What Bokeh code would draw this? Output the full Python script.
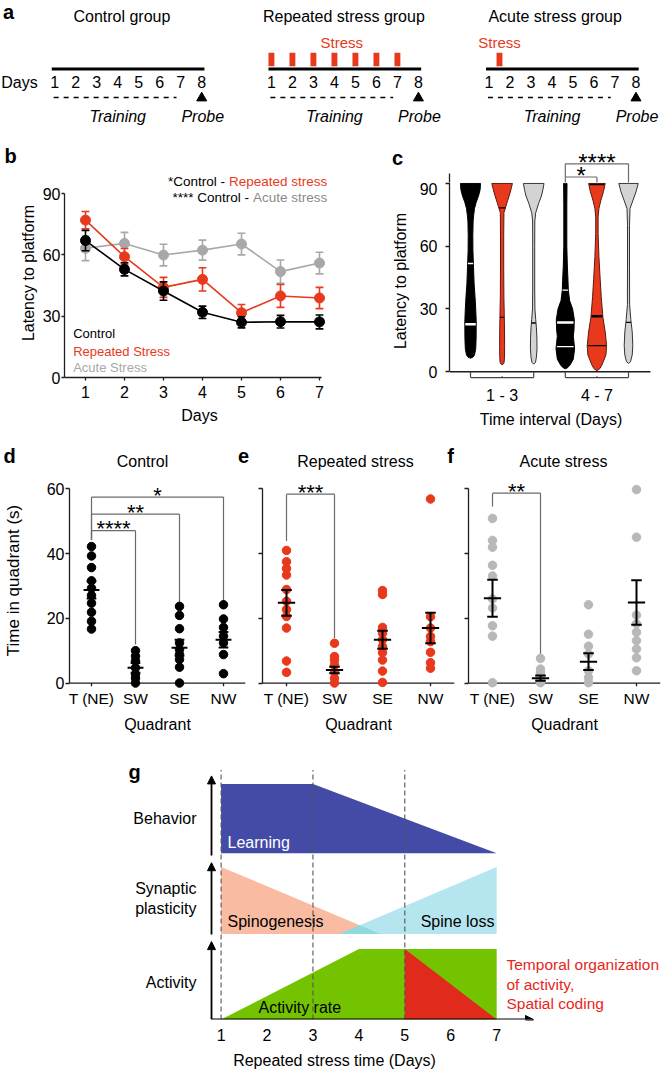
import numpy as np
from bokeh.plotting import figure
from bokeh.layouts import column, row
from bokeh.models import Range1d, FactorRange, FixedTicker, Arrow, NormalHead
from bokeh.core.properties import value
from bokeh.embed import file_html
from bokeh.resources import INLINE

FONT = "Liberation Sans"
RED = "#E8391D"
GRAY_B = "#A8A8A8"
GRAY_F = "#B8B8B8"
VGRAY = "#D3D3D3"
AXIS = "#1E1E1E"
BRK = "#6B6B6B"

# ======================= DATA =======================
# (a) protocol
a_titles = ["Control group", "Repeated stress group", "Acute stress group"]
a_title_x = [4.2, 4.45, 4.15]
a_days = [1, 2, 3, 4, 5, 6, 7, 8]
a_training = [1, 7]
a_probe = 8
a_stress_days = [[], [1, 2, 3, 4, 5, 6, 7], [1.5]]
a_stress_label_x = [None, 4.35, 1.5]

# (b) latency per day
b_days = [1, 2, 3, 4, 5, 6, 7]
b_control = [67.0, 52.9, 42.3, 31.9, 27.0, 27.3, 27.2]
b_control_sem = [5.0, 3.2, 4.5, 3.0, 2.7, 3.1, 3.4]
b_repeated = [77.0, 59.1, 44.1, 48.0, 31.7, 39.9, 38.9]
b_repeated_sem = [4.2, 4.0, 4.9, 5.7, 4.0, 5.6, 5.2]
b_acute = [63.2, 65.6, 59.9, 62.3, 65.3, 51.8, 56.0]
b_acute_sem = [6.0, 5.4, 5.3, 4.9, 5.3, 5.7, 5.3]
b_yticks = [0, 30, 60, 90]

# (c) violins: latency level and half-width (px) of each violin
c_pos = [1, 2, 3, 4, 5, 6]
c_tick_labels = {2: "1 - 3", 5: "4 - 7"}
c_groups = [(1, 3), (4, 6)]
v1_y = [6.5, 7.0, 8.0, 11, 16, 24, 30, 36, 42, 50, 58, 65, 72, 75, 78, 81, 84, 87, 90]
v1_w = [0, 2.5, 4.0, 5.2, 5.6, 5.7, 5.2, 4.5, 3.6, 3.0, 2.4, 2.3, 2.6, 3.2, 4.0, 5.7, 8.0, 9.6, 10.0]
v2_y = [3.3, 4.0, 6, 12, 20, 28, 35, 50, 65, 76, 78.3, 81, 84, 87, 90]
v2_w = [0, 1.8, 2.3, 2.5, 2.4, 2.1, 1.8, 1.6, 1.6, 1.8, 3.3, 5.0, 7.0, 8.8, 10.3]
v3_y = [3.6, 4.5, 7, 11, 16, 21, 25, 30, 40, 60, 72, 76, 80.6, 84, 87, 90]
v3_w = [0, 1.8, 2.7, 3.3, 3.2, 2.7, 2.0, 1.2, 1.0, 1.0, 1.1, 2.0, 5.0, 7.7, 9.2, 10.3]
v4_y = [1.4, 2.0, 3.2, 6, 11, 14, 17, 20, 25, 30, 34, 39, 43.5, 51, 60, 80, 90]
v4_w = [0, 2.5, 4.7, 8.0, 9.3, 8.7, 8.0, 8.7, 9.0, 7.3, 4.3, 3.0, 2.7, 2.0, 1.5, 1.5, 1.7]
v5_y = [0.5, 1.5, 3.2, 8, 12.5, 19, 26, 36, 44, 55, 66, 74, 78, 82, 86, 90]
v5_w = [0, 3.0, 5.0, 9.0, 9.7, 8.3, 6.0, 4.3, 3.3, 2.0, 1.2, 1.2, 2.0, 4.0, 6.5, 8.3]
v6_y = [4.0, 4.8, 8, 12.5, 19, 25, 32, 50, 70, 78, 82, 86, 90]
v6_w = [0, 2.0, 3.7, 4.3, 3.7, 2.3, 1.1, 1.0, 1.0, 1.5, 4.5, 7.5, 9.7]
c_violins = [(v1_y, v1_w), (v2_y, v2_w), (v3_y, v3_w), (v4_y, v4_w), (v5_y, v5_w), (v6_y, v6_w)]
c_fill = ["black", RED, VGRAY, "black", RED, VGRAY]
c_edge = ["black", "#5a1a10", "#333333", "black", "#5a1a10", "#333333"]
c_mark_color = ["white", "black", "black", "white", "black", "black"]
c_median = [22.7, 26.0, 23.3, 23.5, 26.5, 23.6]
c_quartiles = [[51.7], [78.3], [], [39.0, 12.0], [89.5, 12.5], []]
c_sig = [(4, 5, 93.0, 90.0, 90.0, "*"), (4, 6, 99.1, 93.0, 90.0, "****")]

# (d, e, f) time in quadrant
quadrants = ["T (NE)", "SW", "SE", "NW"]
d_vals = [[42.2, 39.3, 35.7, 31.6, 29.3, 27.1, 24.7, 21.9, 19.1, 16.7],
          [10.0, 8.3, 6.8, 4.7, 2.7, 1.5, 0.0],
          [23.7, 20.9, 16.8, 12.4, 10.4, 8.8, 7.3, 4.9, 0.0],
          [24.2, 19.8, 17.2, 14.5, 12.4, 8.8, 2.9]]
d_mean = [28.8, 4.7, 10.9, 13.4]
d_sem = [2.7, 1.5, 2.5, 2.4]
d_sig = [(0, 3, 57.5, 44.3, 25.2, "*"), (0, 2, 52.2, 44.3, 24.7, "**"), (0, 1, 47.1, 44.3, 11.9, "****")]

e_vals = [[41.0, 37.5, 35.4, 33.4, 28.9, 25.3, 22.7, 20.6, 17.0, 6.8, 3.3],
          [12.3, 8.2, 7.1, 5.6, 3.5, 1.5, 0.0],
          [28.6, 27.4, 17.2, 15.4, 13.4, 11.3, 9.4, 7.1, 3.7, 0.2],
          [56.9, 20.5, 17.0, 14.4, 12.8, 9.5, 6.3, 4.6]]
e_mean = [24.8, 4.0, 13.4, 17.0]
e_sem = [4.0, 1.0, 2.8, 4.7]
e_sig = [(0, 1, 58.4, 43.9, 13.9, "***")]

f_vals = [[50.9, 44.1, 42.0, 36.4, 33.1, 26.0, 23.2, 17.7, 14.5, 0.1],
          [7.6, 4.3, 3.2, 2.2, 1.2, 0.1],
          [24.2, 15.1, 11.4, 9.0, 3.8, 1.7, 0.1],
          [59.8, 45.1, 21.0, 18.3, 15.7, 13.1, 10.5, 7.8, 3.8]]
f_mean = [26.2, 1.5, 6.6, 24.9]
f_sem = [5.7, 0.8, 2.6, 6.9]
f_sig = [(0, 1, 58.7, 54.6, 9.0, "**")]
def_yticks = [0, 20, 40, 60]

# (g) schematic
g_days = [1, 2, 3, 4, 5, 6, 7]
g_marks = [1, 3, 5]
g_behavior_x = [1, 3, 7, 1]
g_behavior_y = [3.41, 3.41, 2.41, 2.41]
g_spino_x = [1, 1, 4.47]
g_spino_y = [2.21, 1.24, 1.24]
g_loss_x = [3.57, 7, 7]
g_loss_y = [1.24, 2.21, 1.24]
g_act_x = [1, 4, 7, 7]
g_act_y = [0.0, 1.02, 1.02, 0.0]
g_code_x = [5, 5, 7]
g_code_y = [1.02, 0.0, 0.0]


# ======================= HELPERS =======================
def make_fig(w, h, xr, yr, l, r, t, b, axes=True):
    kw = {} if axes else dict(x_axis_type=None, y_axis_type=None)
    p = figure(width=w, height=h, x_range=xr, y_range=yr, output_backend="svg",
               toolbar_location=None, min_border_left=l, min_border_right=r,
               min_border_top=t, min_border_bottom=b, frame_align=False, **kw)
    p.outline_line_color = None
    for g in p.grid:
        g.visible = False
    return p


def style_axis(ax, tick_out=4, standoff=2, label_standoff=6, size="16px"):
    ax.axis_line_color = AXIS
    ax.axis_line_width = 1.3
    ax.major_tick_line_color = AXIS
    ax.major_tick_line_width = 1.3
    ax.major_tick_out = tick_out
    ax.major_tick_in = 0
    ax.minor_tick_line_color = None
    ax.major_label_text_font = FONT
    ax.major_label_text_font_size = size
    ax.major_label_text_color = "black"
    ax.major_label_standoff = standoff
    ax.axis_label_text_font = FONT
    ax.axis_label_text_font_size = "16px"
    ax.axis_label_text_font_style = "normal"
    ax.axis_label_text_color = "black"
    ax.axis_label_standoff = label_standoff


def txt(p, x, y, s, size=16, color="black", align="center", baseline="middle", style="normal"):
    p.text(x=[x], y=[y], text=[s], text_font=value(FONT), text_font_size=value(f"{size}px"),
           text_color=color, text_align=align, text_baseline=baseline, text_font_style=style)


def stars(p, x, y_br, s, ppy, size=24):
    centre = y_br + 6.0 / ppy
    txt(p, x, centre - 4.5 * size / 24 / ppy, s, size=size, baseline="alphabetic")


# ======================= (a) =======================
A_PX0, A_PPX = 54.2, 21.0
a_off = [0.0, 10.32, 20.68]
pa = make_fig(668, 126, Range1d(1 + (0 - A_PX0) / A_PPX, 1 + (668 - A_PX0) / A_PPX),
              Range1d(126, 0), 0, 0, 0, 0, axes=False)
txt(pa, 1 + (8 - A_PX0) / A_PPX, 11.5, "a", size=20, style="bold")
txt(pa, 1 + (19 - A_PX0) / A_PPX, 81.5, "Days")
for g in range(3):
    off = a_off[g]
    txt(pa, a_title_x[g] + off, 15.5, a_titles[g])
    pa.segment(x0=[0.86 + off], y0=[68.5], x1=[8.13 + off], y1=[68.5], line_color="black", line_width=3)
    pa.text(x=[d + off for d in a_days], y=[81.5] * len(a_days), text=[str(d) for d in a_days],
            text_font=value(FONT), text_font_size=value("16px"), text_align="center",
            text_baseline="middle", text_color="black")
    pa.segment(x0=[a_training[0] - 0.05 + off], y0=[97], x1=[a_training[1] - 0.2 + off], y1=[97],
               line_color="black", line_width=1.4, line_dash="5 5")
    pa.scatter(x=[a_probe + off], y=[97.5], marker="triangle", size=10, color="black")
    txt(pa, 4.0 + off, 115.5, "Training", style="italic")
    txt(pa, a_probe + 0.05 + off, 115.5, "Probe", style="italic")
    sd = a_stress_days[g]
    if sd:
        pa.quad(left=[d + off - 0.14 for d in sd], right=[d + off + 0.14 for d in sd],
                top=[52.3] * len(sd), bottom=[65.7] * len(sd), fill_color=RED, line_color=None)
        txt(pa, a_stress_label_x[g] + off, 42, "Stress", size=15, color=RED)

# ======================= (b) =======================
B_X0, B_PPX, B_PPY = 0.4615, 39.0, 2.044
bx = lambda px: B_X0 + (px - 64) / B_PPX
by = lambda py: (377 - py) / B_PPY
hb = make_fig(340, 42, Range1d(bx(0), bx(340)), Range1d(by(168), by(126)), 0, 0, 0, 0, axes=False)
txt(hb, bx(10), by(155.5), "b", size=20, style="bold")

pb = make_fig(340, 262, Range1d(bx(64), bx(334)), Range1d(0, by(168)), 64, 6, 0, 53)
for ax in pb.axis:
    style_axis(ax, tick_out=3, standoff=1, label_standoff=3)
pb.xaxis.major_label_standoff = 5
pb.xaxis.axis_label_standoff = 6
pb.xaxis.ticker = FixedTicker(ticks=b_days)
pb.xaxis.bounds = (B_X0, 7.05)
pb.yaxis.ticker = FixedTicker(ticks=b_yticks)
pb.yaxis.bounds = (0, 90)
pb.xaxis.axis_label = "Days"
pb.yaxis.axis_label = "Latency to platform"

for vals, sem, col in [(b_acute, b_acute_sem, GRAY_B), (b_repeated, b_repeated_sem, RED),
                       (b_control, b_control_sem, "black")]:
    v = np.array(vals); s = np.array(sem); x = np.array(b_days, dtype=float)
    pb.line(x, v, line_color=col, line_width=1.6)
    pb.segment(x0=x, y0=v - s, x1=x, y1=v + s, line_color=col, line_width=1.6)
    pb.segment(x0=x - 0.1, y0=v + s, x1=x + 0.1, y1=v + s, line_color=col, line_width=1.6)
    pb.segment(x0=x - 0.1, y0=v - s, x1=x + 0.1, y1=v - s, line_color=col, line_width=1.6)
    pb.scatter(x, v, size=10, color=col)

txt(pb, bx(72.7), by(333), "Control", size=13, align="left")
txt(pb, bx(72.7), by(351), "Repeated Stress", size=13, color=RED, align="left")
txt(pb, bx(72.7), by(367), "Acute Stress", size=13, color=GRAY_B, align="left")
txt(pb, bx(326.7), by(181), "Repeated stress", size=13.5, color=RED, align="right")
txt(pb, bx(224.6), by(181), "*Control -", size=13.5, align="right")
txt(pb, bx(326.7), by(197), "Acute stress", size=13.5, color="#8A8A8A", align="right")
txt(pb, bx(248.6), by(197), "**** Control -", size=13.5, align="right")

# ======================= (c) =======================
C_X0, C_PPX, C_PPY = 0.335, 31.6, 2.156
C_SPLIT = 182
cx = lambda px: C_X0 + (px - 449) / C_PPX
cy = lambda py: (377 - py) / C_PPY
hc = make_fig(328, C_SPLIT - 126, Range1d(cx(340), cx(668)), Range1d(cy(C_SPLIT), cy(126)),
              0, 0, 0, 0, axes=False)
txt(hc, cx(397), cy(157), "c", size=20, style="bold")
# continuation of the y-axis spine above the frame
hc.segment(x0=[C_X0], y0=[cy(C_SPLIT) - 1], x1=[C_X0], y1=[94.6], line_color=AXIS, line_width=1.3)

pc = make_fig(328, 430 - C_SPLIT, Range1d(cx(449), cx(652)), Range1d(cy(385), cy(C_SPLIT)),
              109, 16, 0, 45)
for ax in pc.axis:
    style_axis(ax, tick_out=4, standoff=8, label_standoff=8)
pc.yaxis.ticker = FixedTicker(ticks=b_yticks)
pc.yaxis.bounds = (0, 94.0)
pc.yaxis.axis_label = "Latency to platform"
pc.xaxis.ticker = FixedTicker(ticks=list(c_tick_labels.keys()))
pc.xaxis.major_label_overrides = c_tick_labels
pc.xaxis.axis_line_color = None
pc.xaxis.major_tick_out = 0
pc.xaxis.major_label_standoff = 7
pc.xaxis.axis_label_standoff = 4
pc.xaxis.axis_label = "Time interval (Days)"
pc.segment(x0=[C_X0], y0=[0], x1=[cx(650)], y1=[0], line_color=AXIS, line_width=1.3)

for fig_ in (pc, hc):
    for i, (vy, vw) in enumerate(c_violins):
        xc = c_pos[i]
        yy = np.array(vy, dtype=float)
        hw = np.array(vw, dtype=float) / C_PPX
        xs = np.concatenate([xc + hw, (xc - hw)[::-1]])
        ys = np.concatenate([yy, yy[::-1]])
        fig_.patch(xs, ys, fill_color=c_fill[i], line_color=c_edge[i], line_width=1)
        marks = [(c_median[i], 2.6 if i in (0, 3, 4) else 1.3)] + [(q, 1.4) for q in c_quartiles[i]]
        for (yv, lw) in marks:
            w = np.interp(yv, yy, hw) * 0.92
            fig_.segment(x0=[xc - w], y0=[yv], x1=[xc + w], y1=[yv], line_color=c_mark_color[i],
                         line_width=lw)
    for (a, b, ybar, ya, yb2, s) in c_sig:
        fig_.segment(x0=[a, a, b], y0=[ya, ybar, ybar], x1=[a, b, b], y1=[ybar, ybar, yb2],
                     line_color=BRK, line_width=1.2)

for (a, b) in c_groups:
    yb = -2.8
    pc.segment(x0=[a, a, b, (a + b) / 2], y0=[0, yb, yb, yb], x1=[a, b, b, (a + b) / 2],
               y1=[yb, yb, 0, yb + 0.6], line_color="#444444", line_width=1.2)

for (a, b, ybar, ya, yb2, s) in c_sig:
    stars(hc, (a + b) / 2, ybar, s, C_PPY)

# ======================= (d, e, f) =======================
Q_PPY = 3.234
qy = lambda py: (682.5 - py) / Q_PPY
Q_TOP = 471


def quad_header(w, page_x0, frame_left, ppx, title, title_px, letter, letter_px):
    qx = lambda px: (px - frame_left) / ppx
    h = make_fig(w, Q_TOP - 430, Range1d(qx(page_x0), qx(page_x0 + w)), Range1d(qy(Q_TOP), qy(430)),
                 0, 0, 0, 0, axes=False)
    txt(h, qx(title_px), qy(461), title, size=16)
    txt(h, qx(letter_px), qy(455), letter, size=20, style="bold")
    return h


def quadrant_panel(w, l, r, vals, mean, sem, sig, color, first=False):
    p = make_fig(w, 735 - Q_TOP, FactorRange(factors=quadrants), Range1d(-2, qy(Q_TOP)), l, r, 0, 46)
    for ax in p.axis:
        style_axis(ax, tick_out=4, standoff=1, label_standoff=21)
    p.yaxis.ticker = FixedTicker(ticks=def_yticks)
    p.yaxis.bounds = (0, 60)
    if first:
        p.yaxis.axis_label = "Time in quadrant (s)"
        p.yaxis.axis_label_text_font_size = "17px"
    else:
        p.yaxis.major_label_overrides = {t: "" for t in def_yticks}
        p.yaxis.major_label_standoff = 0
    p.xaxis.axis_line_color = None
    p.xaxis.major_tick_out = 0
    p.xaxis.major_label_standoff = 0
    p.xaxis.major_label_text_font_size = "15.5px"
    p.xaxis.axis_label = "Quadrant"
    p.xaxis.axis_label_standoff = 6
    p.segment(x0=[0], y0=[0], x1=[4], y1=[0], line_color=AXIS, line_width=1.3)
    p.segment(x0=[0.5, 1.5, 2.5, 3.5], y0=[0] * 4, x1=[0.5, 1.5, 2.5, 3.5], y1=[-1.0] * 4,
              line_color=AXIS, line_width=1.3)
    for (a, b, ybar, ya, yb2, s) in sig:
        xa, xb = a + 0.5, b + 0.5
        p.segment(x0=[xa, xa, xb], y0=[ya, ybar, ybar], x1=[xa, xb, xb], y1=[ybar, ybar, yb2],
                  line_color=BRK, line_width=1.2)
        stars(p, (xa + xb) / 2, ybar, s, Q_PPY, size=22)
    for i, v in enumerate(vals):
        p.scatter([i + 0.5] * len(v), v, size=8.5, color=color)
    for i in range(4):
        xc = i + 0.5
        m, s = mean[i], sem[i]
        p.segment(x0=[xc - 0.18, xc, xc - 0.11, xc - 0.11], y0=[m, m - s, m + s, m - s],
                  x1=[xc + 0.18, xc, xc + 0.11, xc + 0.11], y1=[m, m + s, m + s, m - s],
                  line_color="black", line_width=2)
    return p


hd = quad_header(236, 0, 52, 193 / 4, "Control", 142, "d", 9)
he = quad_header(207, 236, 262, 192 / 4, "Repeated stress", 355, "e", 243)
hf = quad_header(225, 443, 468, 192 / 4, "Acute stress", 563, "f", 450)
pd_ = quadrant_panel(248, 52, 3, d_vals, d_mean, d_sem, d_sig, "black", first=True)
pe_ = quadrant_panel(213, 14, 7, e_vals, e_mean, e_sem, e_sig, RED)
pf_ = quadrant_panel(207, 7, 8, f_vals, f_mean, f_sem, f_sig, GRAY_F)

# ======================= (g) =======================
G_PPX, G_PPY, G_X1 = 45.93, 70.0, 220.6
gx = lambda px: 1 + (px - G_X1) / G_PPX
gy = lambda py: (1023 - py) / G_PPY
pg = make_fig(668, 336, Range1d(gx(0), gx(668)), Range1d(0, gy(735)), 0, 0, 0, 48)
pg.yaxis.visible = False
style_axis(pg.xaxis[0], tick_out=0, standoff=9, label_standoff=8)
pg.xaxis.ticker = FixedTicker(ticks=g_days)
pg.xaxis.bounds = (1, 7.52)
pg.xaxis.axis_line_color = None
pg.xaxis.axis_label = "Repeated stress time (Days)"

pg.patch(g_behavior_x, g_behavior_y, fill_color="#434BA6", line_color=None)
pg.patch(g_spino_x, g_spino_y, fill_color="#F9BBA1", line_color=None)
pg.patch(g_loss_x, g_loss_y, fill_color="#B5E5EF", line_color=None)
s_top, s_bot = max(g_spino_y), min(g_spino_y)
k1 = (s_top - s_bot) / (g_spino_x[2] - g_spino_x[0])
k2 = (s_top - s_bot) / (g_loss_x[1] - g_loss_x[0])
xi = (s_top + k1 * g_spino_x[0] + k2 * g_loss_x[0] - s_bot) / (k1 + k2)
yi = s_bot + k2 * (xi - g_loss_x[0])
pg.patch([g_loss_x[0], xi, g_spino_x[2]], [s_bot, yi, s_bot], fill_color="#93D8DD", line_color=None)
pg.patch(g_act_x, g_act_y, fill_color="#74C300", line_color=None)
pg.patch(g_code_x, g_code_y, fill_color="#E02A1B", line_color=None)

for xm in g_marks:
    pg.segment(x0=[xm], y0=[0], x1=[xm], y1=[gy(770)], line_color="#555555", line_width=1.1,
               line_dash="5 3")

xa = gx(211)
for (y0, y1) in [(gy(856.7), gy(776)), (gy(936.7), gy(864)), (0, gy(944))]:
    pg.add_layout(Arrow(end=NormalHead(size=8, fill_color="black", line_color="black"),
                        x_start=xa, y_start=y0, x_end=xa, y_end=y1, line_width=1.8, line_color="black"))
pg.add_layout(Arrow(end=NormalHead(size=8, fill_color="black", line_color="black"),
                    x_start=xa, y_start=0, x_end=gx(533), y_end=0, line_width=1.8, line_color="black"))

txt(pg, gx(196), gy(819), "Behavior", align="right")
txt(pg, gx(196), gy(890), "Synaptic", align="right")
txt(pg, gx(196), gy(910), "plasticity", align="right")
txt(pg, gx(196), gy(985), "Activity", align="right")
txt(pg, gx(227), gy(843), "Learning", color="white", align="left")
txt(pg, gx(227), gy(924), "Spinogenesis", align="left")
txt(pg, gx(494), gy(924), "Spine loss", align="right")
txt(pg, gx(258), gy(1011), "Activity rate", align="left")
for yy, s in [(967, "Temporal organization"), (987, "of activity,"), (1007, "Spatial coding")]:
    txt(pg, gx(506), gy(yy), s, size=15.5, color="#E8261A", align="left")
txt(pg, gx(134), gy(772), "g", size=20, style="bold")

layout = column(pa,
                row(column(hb, pb), column(hc, pc)),
                row(hd, he, hf),
                row(pd_, pe_, pf_),
                pg)
open("out.html", "w").write(file_html(layout, INLINE))
